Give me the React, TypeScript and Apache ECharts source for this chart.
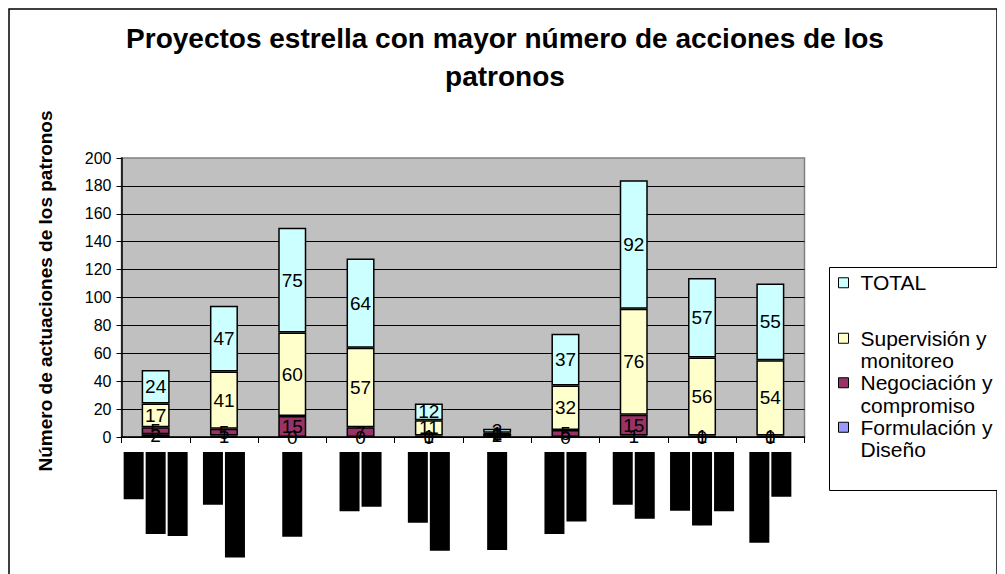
import React, { useEffect, useRef } from "react";
import * as echarts from "echarts";

const FONT = "'Liberation Sans', Arial, sans-serif";

const titleText = "Proyectos estrella con mayor número de acciones de los\npatronos";
const yAxisName = "Número de actuaciones de los patronos";

// Category labels (redacted in the reference, shown as black blocks)
const categories = [
  "Proyecto\nFortalecimiento\nde capacidades",
  "Programa\nempleo en la región",
  "Red de mujeres",
  "Escuela de\nliderazgos",
  "Cooperativas\nagrícolas del norte",
  "Agua potable rural",
  "Microempresas\nde artesanos",
  "Centro de\ncapacitación",
  "Huertos de\ntraspatio para\nlas familias",
  "Reforestación de\ncuencas",
];

const seriesNames = [
  "Formulación y Diseño",
  "Negociación y compromiso",
  "Supervisión y monitoreo",
  "TOTAL",
];
const formulacion = [2, 1, 0, 0, 0, 2, 0, 1, 0, 0];
const negociacion = [5, 5, 15, 7, 1, 0, 5, 15, 1, 1];
const supervision = [17, 41, 60, 57, 11, 1, 32, 76, 56, 54];
const total = [24, 47, 75, 64, 12, 3, 37, 92, 57, 55];

const colors = ["#9999FF", "#993366", "#FFFFCC", "#CCFFFF"];

const yMin = 0;
const yMax = 200;
const yInterval = 20;

export default function App() {
  const ref = useRef<HTMLDivElement>(null);

  useEffect(() => {
    document.body.style.overflow = "hidden";
    const chart = echarts.init(ref.current!, null, { renderer: "svg" });
    const values = [formulacion, negociacion, supervision, total];
    const series = values.map((data, i) => ({
      name: seriesNames[i],
      type: "bar",
      stack: "s",
      data,
      barWidth: 28,
      itemStyle: { color: colors[i], borderColor: "#000", borderWidth: 1.5 },
      label: {
        show: true,
        position: "inside",
        color: "#000",
        fontSize: 19,
        fontFamily: FONT,
      },
    }));

    chart.setOption({
      animation: false,
      backgroundColor: "#fff",
      title: {
        text: titleText,
        left: 492,
        top: 6,
        textAlign: "center",
        textStyle: {
          fontSize: 28,
          fontWeight: "bold",
          fontFamily: FONT,
          color: "#000",
          lineHeight: 38,
        },
      },
      grid: {
        left: 113.5,
        top: 150,
        width: 683,
        height: 279,
        show: true,
        backgroundColor: "#C0C0C0",
        borderColor: "#808080",
        borderWidth: 1.5,
      },
      xAxis: {
        type: "category",
        data: categories,
        boundaryGap: true,
        axisLine: { show: true, lineStyle: { color: "#000", width: 1.5 } },
        axisTick: { show: true, length: 6, lineStyle: { color: "#000" } },
        axisLabel: {
          rotate: 90,
          margin: 15,
          interval: 0,
          formatter: (v: string) =>
            v
              .split("\n")
              .map((l) => `{r|${l}}`)
              .join("\n"),
          rich: {
            r: {
              fontSize: 12,
              fontFamily: FONT,
              color: "#000",
              lineHeight: 22,
              backgroundColor: "#000",
              padding: [4, 0, 4, 0],
            },
          },
        },
      },
      yAxis: {
        type: "value",
        min: yMin,
        max: yMax,
        interval: yInterval,
        axisLine: { show: true, lineStyle: { color: "#000", width: 1.5 } },
        axisTick: { show: true, length: 5, lineStyle: { color: "#000" } },
        axisLabel: {
          color: "#000",
          fontSize: 16,
          fontFamily: FONT,
          margin: 10,
        },
        splitLine: {
          show: true,
          showMaxLine: false,
          lineStyle: { color: "#000", width: 1 },
        },
      },
      legend: [
        {
          data: ["TOTAL"],
          orient: "vertical",
          left: 830,
          top: 263.5,
          padding: 0,
          icon: "rect",
          itemWidth: 10,
          itemHeight: 10,
          itemStyle: { borderColor: "#000", borderWidth: 1 },
          textStyle: {
            fontSize: 21,
            lineHeight: 22.5,
            fontFamily: FONT,
            color: "#000",
            padding: [0, 0, 0, 7],
          },
          selectedMode: false,
          z: 10,
        },
        {
          data: [seriesNames[2], seriesNames[1], seriesNames[0]],
          orient: "vertical",
          left: 830,
          top: 296.5,
          padding: 0,
          itemGap: -23,
          icon: "rect",
          itemWidth: 10,
          itemHeight: 10,
          itemStyle: { borderColor: "#000", borderWidth: 1 },
          formatter: (name: string) => " \n" + name.replace(" y ", " y\n"),
          textStyle: {
            fontSize: 21,
            lineHeight: 22.5,
            fontFamily: FONT,
            color: "#000",
            padding: [0, 0, 0, 7],
          },
          selectedMode: false,
          z: 10,
        },
      ],
      graphic: [
        {
          type: "rect",
          z: -10,
          silent: true,
          shape: { x: 1, y: 1, width: 988, height: 620 },
          style: { fill: "none", stroke: "#000", lineWidth: 1.5 },
        },
        {
          type: "rect",
          z: 1,
          silent: true,
          shape: { x: 821.5, y: 259.5, width: 220, height: 223 },
          style: { fill: "#fff", stroke: "#000", lineWidth: 1 },
        },
        {
          type: "text",
          x: 37,
          y: 283,
          rotation: Math.PI / 2,
          silent: true,
          style: {
            text: yAxisName,
            fontSize: 19,
            fontWeight: "bold",
            fontFamily: FONT,
            fill: "#000",
            align: "center",
            verticalAlign: "middle",
            textAlign: "center",
            textVerticalAlign: "middle",
          },
        },
      ],
      series,
    });
    return () => chart.dispose();
  }, []);

  return <div ref={ref} style={{ width: 997, height: 566 }} />;
}
